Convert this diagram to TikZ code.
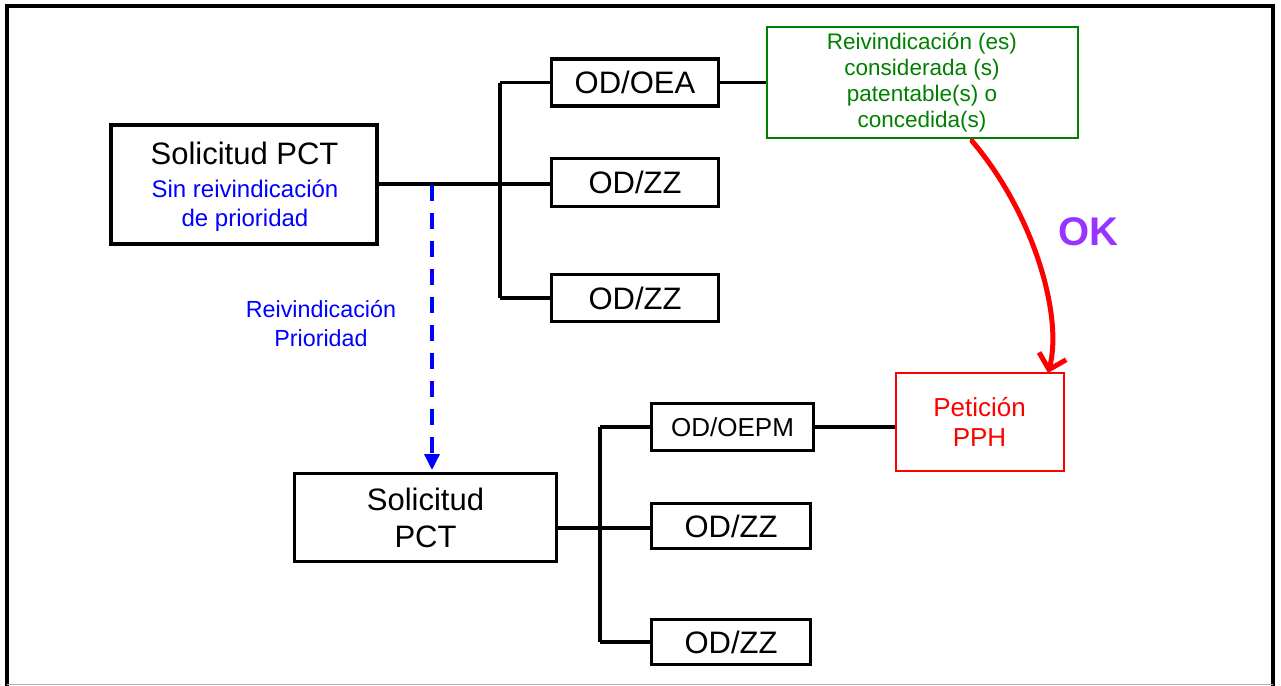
\documentclass[tikz,border=0pt]{standalone}
\usepackage{fontspec}
\setmainfont{Liberation Sans}
\usetikzlibrary{arrows.meta}
\definecolor{okpurple}{RGB}{153,51,255}
\definecolor{grn}{RGB}{0,128,0}
\definecolor{rd}{RGB}{255,0,0}
\begin{document}
\begin{tikzpicture}[x=1pt,y=-1pt,
  box/.style={draw=black, line width=3.5pt, inner sep=0pt, fill=white},
  thinbox/.style={line width=2pt, inner sep=0pt, fill=white},
  conn/.style={draw=black, line width=3.5pt},
  fA/.style={font=\fontsize{31}{37}\selectfont},
  fB/.style={font=\fontsize{26}{30}\selectfont},
  fC/.style={font=\fontsize{24}{29}\selectfont},
  fG/.style={font=\fontsize{22.5}{26}\selectfont},
]
\useasboundingbox (0,0) rectangle (1281,685);
% outer frame
\draw[line width=3.5pt] (7,690) -- (7,6) -- (1273,6) -- (1273,690);
\draw[black!30, line width=1pt] (7,684) -- (1273,684);

% top group
\node[box, minimum width=266pt, minimum height=119pt] (A) at (244,184.5) {};
\node[fA, anchor=base, text=black] (At1) at (244.5,164) {Solicitud PCT};
\node[fC, anchor=base, text=blue] (At2) at (245,197) {Sin reivindicación};
\node[fC, anchor=base, text=blue] (At3) at (245,226) {de prioridad};

\node[box, fA, minimum width=167pt, minimum height=47pt] (OEA) at (635,82.5) {OD/OEA};
\node[box, fA, minimum width=167pt, minimum height=48pt] (ZZ1) at (635,182.5) {OD/ZZ};
\node[box, fA, minimum width=167pt, minimum height=47pt] (ZZ2) at (635,298) {OD/ZZ};
\node[thinbox, draw=grn, text=grn, fG, align=center, minimum width=311pt, minimum height=110pt] (G) at (922,82.5)
  {Reivindicación (es)\\considerada (s)\\patentable(s) o\\concedida(s)};

\coordinate (b1) at (500,184);
\coordinate (b1t) at (500,82.5);
\coordinate (b1b) at (500,298);
\draw[conn] (A.east |- b1) -- (b1);
\draw[conn] (b1) -- (b1 -| ZZ1.west);
\draw[conn] (b1t) -- (b1b);
\draw[conn] (b1t) -- (OEA.west);
\draw[conn] (b1b) -- (ZZ2.west);
\draw[conn] (OEA.east) -- (G.west);

% bottom group
\node[box, fA, align=center, minimum width=262pt, minimum height=88pt] (B) at (425.5,517.5) {Solicitud\\PCT};
\node[box, fB, minimum width=162pt, minimum height=47pt] (OEPM) at (732.5,427) {OD/OEPM};
\node[box, fA, minimum width=159pt, minimum height=45pt] (ZZ3) at (731,526) {OD/ZZ};
\node[box, fA, minimum width=159pt, minimum height=45pt] (ZZ4) at (731,642) {OD/ZZ};
\node[thinbox, draw=rd, text=rd, fB, align=center, minimum width=168pt, minimum height=98pt] (PPH) at (979.5,421.5) {Petición\\PPH};

\coordinate (b2) at (600,528);
\coordinate (b2t) at (600,427);
\coordinate (b2b) at (600,642);
\draw[conn] (B.east |- b2) -- (b2);
\draw[conn] (b2) -- (b2 -| ZZ3.west);
\draw[conn] (b2t) -- (b2b);
\draw[conn] (b2t) -- (OEPM.west);
\draw[conn] (b2b) -- (ZZ4.west);
\draw[conn] (OEPM.east) -- (OEPM.east -| PPH.west);

% dashed priority claim
\coordinate (d1) at (432,185);
\coordinate (d2) at (432,470);
\draw[blue, line width=3.5pt, dash pattern=on 16pt off 12pt, -{Triangle[length=16pt,width=15pt]}] (d1) -- (d2);
\node[text=blue, align=center, font=\fontsize{23.3}{29}\selectfont] (lab) at (321,324) {Reivindicación\\Prioridad};

% red OK arrow
\coordinate (rs) at (972,141);
\coordinate (re) at (1048,373);
\draw[rd, line width=5pt, line cap=round, -{Straight Barb[length=14pt,width=28pt]}] (rs) .. controls (1035,215) and (1063,318) .. (re);
\node[text=okpurple, font=\bfseries\fontsize{40}{44}\selectfont] (ok) at (1088,232) {OK};
\end{tikzpicture}
\end{document}
